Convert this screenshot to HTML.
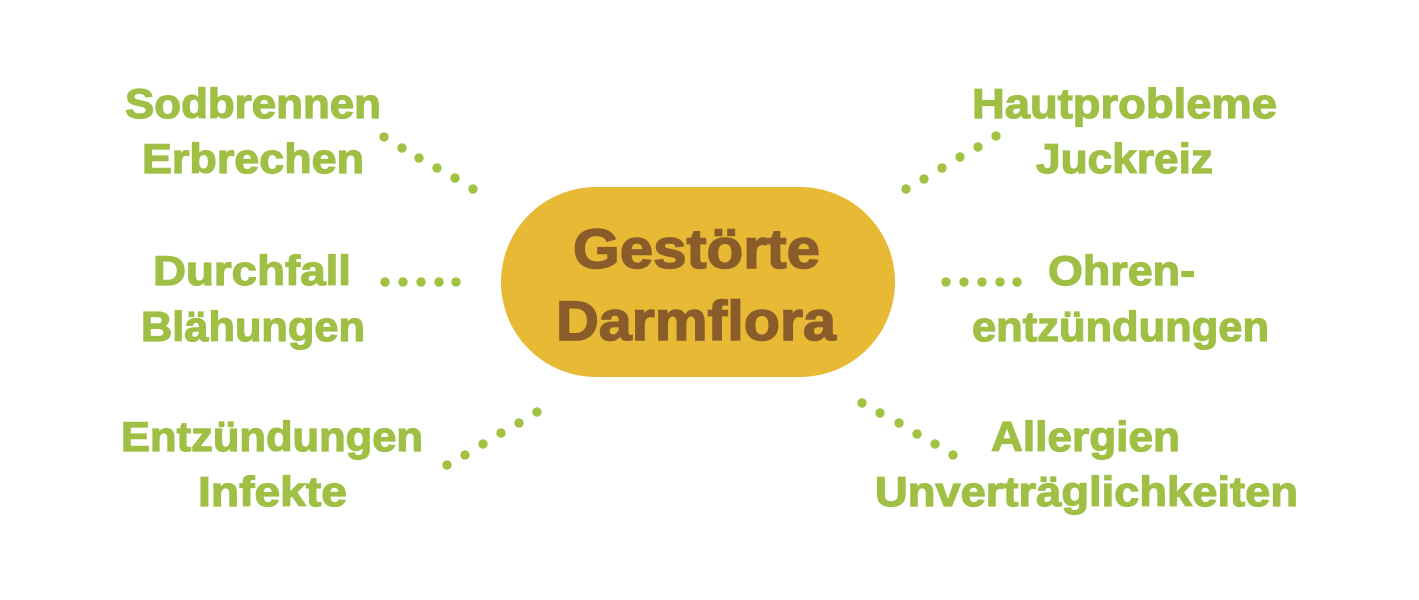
<!DOCTYPE html>
<html><head><meta charset="utf-8"><style>
html,body{margin:0;padding:0;background:#fff;}
svg{display:block}
text{font-family:"Liberation Sans",sans-serif;font-weight:bold;}
.g{fill:#9FBF45;stroke:#9FBF45;stroke-width:1.2px;font-size:42px}
.c{fill:#8A5C2A;stroke:#8A5C2A;stroke-width:1.5px;font-size:56px}
</style></head><body>
<svg width="1419" height="600" viewBox="0 0 1419 600">
<rect x="501" y="187" width="394" height="190" rx="95" fill="#E8B935"/>
<text class="c" x="573" y="268" textLength="247" lengthAdjust="spacingAndGlyphs">Gestörte</text>
<text class="c" x="556" y="340" textLength="280" lengthAdjust="spacingAndGlyphs">Darmflora</text>

<text class="g" x="125" y="118" textLength="256" lengthAdjust="spacingAndGlyphs">Sodbrennen</text>
<text class="g" x="142" y="173" textLength="222" lengthAdjust="spacingAndGlyphs">Erbrechen</text>
<text class="g" x="153" y="285" textLength="198" lengthAdjust="spacingAndGlyphs">Durchfall</text>
<text class="g" x="141" y="341" textLength="224" lengthAdjust="spacingAndGlyphs">Blähungen</text>
<text class="g" x="121" y="451" textLength="302" lengthAdjust="spacingAndGlyphs">Entzündungen</text>
<text class="g" x="198" y="506" textLength="149" lengthAdjust="spacingAndGlyphs">Infekte</text>

<text class="g" x="972" y="118" textLength="305" lengthAdjust="spacingAndGlyphs">Hautprobleme</text>
<text class="g" x="1036" y="173" textLength="177" lengthAdjust="spacingAndGlyphs">Juckreiz</text>
<text class="g" x="1048" y="285" textLength="147" lengthAdjust="spacingAndGlyphs">Ohren-</text>
<text class="g" x="972" y="341" textLength="297" lengthAdjust="spacingAndGlyphs">entzündungen</text>
<text class="g" x="991" y="451" textLength="189" lengthAdjust="spacingAndGlyphs">Allergien</text>
<text class="g" x="875" y="506" textLength="423" lengthAdjust="spacingAndGlyphs">Unverträglichkeiten</text>

<g fill="#A2C244">
<circle cx="384" cy="137" r="4.7"/><circle cx="402" cy="148" r="4.7"/><circle cx="419" cy="158" r="4.7"/><circle cx="437" cy="168" r="4.7"/><circle cx="455" cy="178" r="4.7"/><circle cx="473" cy="189" r="4.7"/>
<circle cx="385" cy="282" r="4.7"/><circle cx="403" cy="282" r="4.7"/><circle cx="421" cy="282" r="4.7"/><circle cx="439" cy="282" r="4.7"/><circle cx="456" cy="282" r="4.7"/>
<circle cx="447" cy="465" r="4.7"/><circle cx="465" cy="455" r="4.7"/><circle cx="483" cy="444" r="4.7"/><circle cx="501" cy="433" r="4.7"/><circle cx="519" cy="423" r="4.7"/><circle cx="537" cy="412" r="4.7"/>
<circle cx="906" cy="189" r="4.7"/><circle cx="924" cy="179" r="4.7"/><circle cx="942" cy="168" r="4.7"/><circle cx="960" cy="157" r="4.7"/><circle cx="978" cy="147" r="4.7"/><circle cx="996" cy="136" r="4.7"/>
<circle cx="946" cy="282" r="4.7"/><circle cx="964" cy="282" r="4.7"/><circle cx="982" cy="282" r="4.7"/><circle cx="1000" cy="282" r="4.7"/><circle cx="1017" cy="282" r="4.7"/>
<circle cx="862" cy="403" r="4.7"/><circle cx="880" cy="413" r="4.7"/><circle cx="899" cy="423" r="4.7"/><circle cx="917" cy="434" r="4.7"/><circle cx="935" cy="444" r="4.7"/><circle cx="953" cy="455" r="4.7"/>
</g>
</svg>
</body></html>
